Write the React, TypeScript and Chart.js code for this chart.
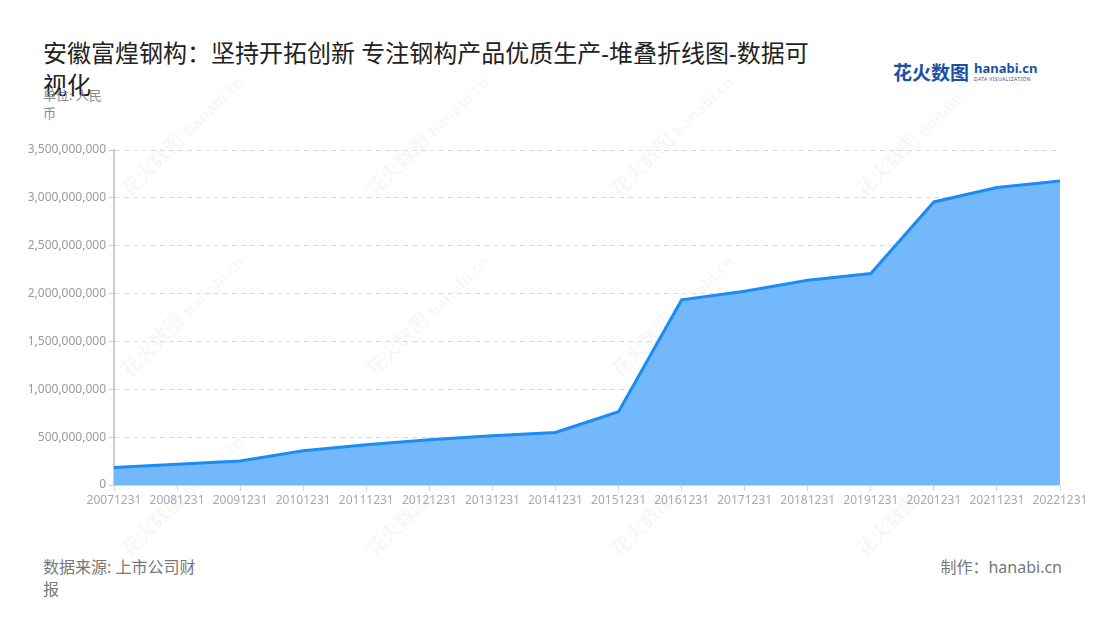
import React, { useEffect, useRef } from 'react';
import { Chart, registerables } from 'chart.js';

Chart.register(...registerables);

// 报告期
const dates = [
  '20071231', '20081231', '20091231', '20101231', '20111231', '20121231', '20131231', '20141231',
  '20151231', '20161231', '20171231', '20181231', '20191231', '20201231', '20211231', '20221231',
];

// 数值（人民币）
const values = [
  184000000, 216000000, 250000000, 357000000, 420000000, 472000000, 514000000, 549000000,
  765000000, 1934000000, 2025000000, 2140000000, 2210000000, 2957000000, 3108000000, 3177000000,
];

const yMax = 3500000000;
const yStep = 500000000;

const title = '安徽富煌钢构：坚持开拓创新 专注钢构产品优质生产-堆叠折线图-数据可视化';
const unitText = '单位: 人民币';
const sourceText = '数据来源: 上市公司财报';
const makerText = '制作：hanabi.cn';

const watermarkSpots = [
  [180, 135], [425, 135], [670, 135], [915, 135],
  [180, 315], [425, 315], [670, 315], [915, 315],
  [180, 495], [425, 495], [670, 495], [915, 495],
];

const FONT = '"Noto Sans", "Noto Sans CJK SC", sans-serif';

const StackedLine: React.FC = () => {
  const chartRef = useRef<HTMLCanvasElement>(null);
  const chartInstance = useRef<Chart | null>(null);

  useEffect(() => {
    if (!chartRef.current) return;
    const ctx = chartRef.current.getContext('2d');
    if (!ctx) return;

    chartInstance.current = new Chart(ctx, {
      type: 'line',
      data: {
        labels: dates,
        datasets: [{
          data: values,
          fill: 'origin',
          backgroundColor: '#74b8fc',
          borderColor: '#1a8cf8',
          borderWidth: 3,
          pointRadius: 0,
          tension: 0,
        }],
      },
      options: {
        animation: false,
        responsive: false,
        maintainAspectRatio: false,
        layout: { padding: { top: 20, right: 40, bottom: 0, left: 0 } },
        plugins: { legend: { display: false }, tooltip: { enabled: false } },
        scales: {
          x: {
            offset: false,
            afterFit: (scale: any) => { scale.height = 35; },
            border: { color: '#ccd6eb', width: 1 },
            grid: { display: true, drawOnChartArea: false, drawTicks: true, tickLength: 6, tickColor: '#ccd6eb' },
            ticks: {
              color: '#a3a9b8',
              font: { family: FONT, size: 12 },
              maxRotation: 0,
              autoSkip: false,
              padding: 2,
            },
          },
          y: {
            min: 0,
            max: yMax,
            afterFit: (scale: any) => { scale.width = 114; },
            border: { color: '#cccccc', width: 2, dash: [5, 4] },
            grid: { color: '#dddddd', lineWidth: 1, tickLength: 5, tickColor: '#cccccc', tickBorderDash: [] },
            ticks: {
              stepSize: yStep,
              color: '#999999',
              font: { family: FONT, size: 12 },
              padding: 3,
              callback: (v: any) => Number(v).toLocaleString('en-US'),
            },
          },
        },
      },
    });

    return () => {
      if (chartInstance.current) {
        chartInstance.current.destroy();
        chartInstance.current = null;
      }
    };
  }, []);

  return (
    <canvas
      ref={chartRef}
      width={1100}
      height={390}
      style={{ position: 'absolute', left: 0, top: 130, width: 1100, height: 390 }}
    />
  );
};

const App: React.FC = () => {
  return (
    <div style={{ position: 'fixed', left: 0, top: 0, width: 1100, height: 620, background: '#fff', overflow: 'hidden', fontFamily: FONT }}>
      {watermarkSpots.map(([x, y], i) => (
        <div
          key={i}
          style={{
            position: 'absolute', left: x - 80, top: y - 14, width: 160, textAlign: 'center',
            transform: 'rotate(-45deg)', color: 'rgba(0,0,0,0.04)', fontWeight: 700, fontSize: 20,
            whiteSpace: 'nowrap', pointerEvents: 'none',
          }}
        >
          花火数图 <span style={{ fontSize: 16 }}>hanabi.cn</span>
        </div>
      ))}

      <StackedLine />

      <div style={{ position: 'absolute', left: 43, top: 37, width: 780, fontSize: 24, lineHeight: '32px', color: '#222' }}>
        {title}
      </div>
      <div style={{ position: 'absolute', left: 43, top: 86, width: 68, fontSize: 13, lineHeight: '18px', color: '#8a8a96' }}>
        {unitText}
      </div>

      <div style={{ position: 'absolute', left: 893, top: 58, display: 'flex', alignItems: 'center', color: '#1e50a2' }}>
        <span style={{ fontSize: 19, fontWeight: 700, letterSpacing: 0 }}>花火数图</span>
        <div style={{ marginLeft: 5, display: 'flex', flexDirection: 'column', lineHeight: 1 }}>
          <span style={{ fontSize: 13, fontWeight: 700 }}>hanabi.cn</span>
          <span style={{ fontSize: 5, letterSpacing: 0.4, marginTop: 2 }}>DATA VISUALIZATION</span>
        </div>
      </div>

      <div style={{ position: 'absolute', left: 43, top: 556, width: 160, fontSize: 16, lineHeight: '22px', color: '#777' }}>
        {sourceText}
      </div>
      <div style={{ position: 'absolute', right: 38, top: 556, fontSize: 16, lineHeight: '22px', color: '#777' }}>
        {makerText}
      </div>
    </div>
  );
};

export default App;
